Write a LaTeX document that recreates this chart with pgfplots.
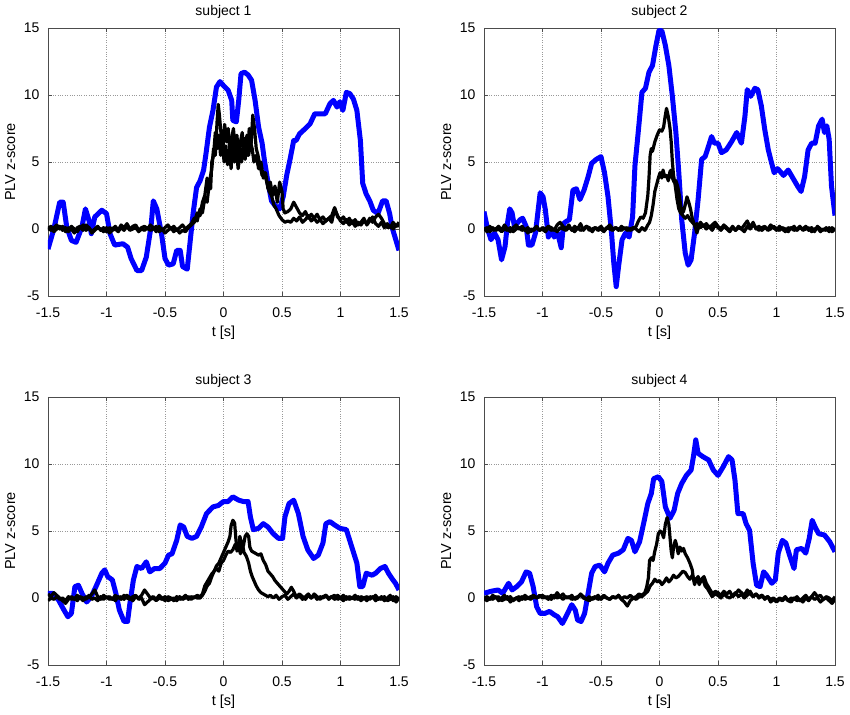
\documentclass[border=0pt]{standalone}
\usepackage{fontspec}
\setmainfont{Liberation Sans}
\usepackage{pgfplots}
\pgfplotsset{compat=1.18}
\newcommand\fs{\fontsize{14bp}{16bp}\selectfont}
\newcommand\fl{\fontsize{14.5bp}{16bp}\selectfont}
\definecolor{pblue}{RGB}{0,0,255}
\pgfplotsset{myax/.style={
  width=351bp,height=268bp,scale only axis,anchor=south west,
  xmin=-1.5,xmax=1.5,ymin=-5,ymax=15,
  xtick={-1.5,-1,-0.5,0,0.5,1,1.5},xticklabels={-1.5,-1,-0.5,0,0.5,1,1.5},
  ytick={-5,0,5,10,15},yticklabels={-5,0,5,10,15},
  grid=major,grid style={dotted,gray!80,line width=0.6bp},
  tick align=inside,tick pos=both,major tick length=4bp,
  tick style={black!70,line width=0.7bp},
  axis line style={black!70,line width=0.8bp},
  xlabel={t [s]},ylabel={PLV z-score},
  ticklabel style={font=\fs},label style={font=\fl},
  xticklabel style={anchor=center,yshift=-16.5bp},
  yticklabel style={anchor=east,xshift=-5bp},
  xlabel style={at={(axis description cs:0.5,-0.138)},anchor=center},
  ylabel style={at={(axis description cs:-0.108,0.5)},anchor=center,rotate=0},
  title style={font=\fs,at={(axis description cs:0.5,1.037)},anchor=center},
  /pgf/number format/assume math mode=true,
  blue line/.style={pblue,line width=5bp,line join=round},
  black line/.style={black,line width=3.2bp,line join=round},
}}
\begin{document}
\begin{tikzpicture}
\useasboundingbox (0,0) rectangle (850bp,715bp);
% ---------------- subject 1
\begin{axis}[myax,at={(48bp,419bp)},title={subject 1}]
\addplot[blue line] coordinates {(-1.5,-1.5)(-1.45,0)(-1.40,2.0)(-1.37,2.0)(-1.34,0.15)(-1.30,-0.85)(-1.26,-1.0)(-1.21,0.15)(-1.18,1.5)(-1.15,0.65)(-1.13,-0.35)(-1.10,0.9)(-1.04,1.4)(-1.0,1.15)(-0.97,-0.35)(-0.93,-1.2)(-0.86,-1.1)(-0.82,-1.35)(-0.79,-2.2)(-0.74,-3.1)(-0.70,-3.1)(-0.66,-2.1)(-0.62,0.15)(-0.60,2.1)(-0.57,1.5)(-0.53,-0.35)(-0.50,-2.2)(-0.47,-2.7)(-0.43,-2.6)(-0.40,-1.6)(-0.37,-1.6)(-0.35,-2.8)(-0.31,-3.0)(-0.29,-1.35)(-0.26,1.15)(-0.23,3.1)(-0.20,3.6)(-0.17,4.4)(-0.15,5.6)(-0.12,7.6)(-0.09,8.85)(-0.06,10.6)(-0.03,11.0)(0.0,10.7)(0.04,10.35)(0.07,9.6)(0.08,8.1)(0.11,8.0)(0.13,9.6)(0.15,11.6)(0.18,11.7)(0.21,11.5)(0.24,11.1)(0.27,9.6)(0.30,7.6)(0.33,6.4)(0.35,5.1)(0.38,3.5)(0.41,2.1)(0.44,1.75)(0.48,1.5)(0.51,2.4)(0.54,4.0)(0.57,5.25)(0.60,6.6)(0.62,6.6)(0.65,7.1)(0.70,7.5)(0.74,7.85)(0.78,8.6)(0.82,8.6)(0.87,8.6)(0.91,9.35)(0.94,9.6)(0.97,9.1)(0.995,9.5)(1.02,8.85)(1.05,10.2)(1.08,10.1)(1.11,9.7)(1.14,8.85)(1.17,6.6)(1.19,3.4)(1.22,2.6)(1.25,2.1)(1.28,1.4)(1.32,1.15)(1.36,2.1)(1.39,2.1)(1.42,1.15)(1.44,0.15)(1.5,-1.6)};
\addplot[black line] coordinates {(-1.5,0.2)(-1.475,-0.1)(-1.45,0.1)(-1.425,0.3)(-1.4,0.0)(-1.375,0.2)(-1.35,-0.2)(-1.325,0.1)(-1.3,0.0)(-1.275,-0.3)(-1.25,0.1)(-1.225,0.2)(-1.2,-0.1)(-1.175,0.3)(-1.15,0.1)(-1.125,-0.2)(-1.1,0.0)(-1.075,0.2)(-1.05,-0.1)(-1.025,0.1)(-1.0,-0.2)(-0.975,0.1)(-0.95,0.0)(-0.925,0.2)(-0.9,-0.1)(-0.875,0.3)(-0.85,0.1)(-0.825,0.4)(-0.8,0.0)(-0.775,0.2)(-0.75,0.3)(-0.725,-0.1)(-0.7,0.1)(-0.675,0.2)(-0.65,0.0)(-0.625,0.3)(-0.6,0.1)(-0.575,-0.2)(-0.55,0.2)(-0.525,-0.1)(-0.5,0.1)(-0.475,0.3)(-0.45,0.0)(-0.425,0.2)(-0.4,-0.1)(-0.375,0.1)(-0.35,0.3)(-0.325,0.0)(-0.3,0.2)(-0.275,0.4)(-0.25,0.8)(-0.225,0.6)(-0.2,1.5)(-0.18,1.2)(-0.16,2.3)(-0.14,2.0)(-0.12,3.5)(-0.1,4.5)(-0.085,6.0)(-0.07,5.5)(-0.055,8.0)(-0.045,9.3)(-0.035,8.5)(-0.02,7.0)(-0.005,6.0)(0.01,7.8)(0.025,6.5)(0.04,7.5)(0.055,5.5)(0.07,6.8)(0.085,7.5)(0.1,6.0)(0.115,7.0)(0.13,5.2)(0.145,6.5)(0.16,7.2)(0.175,5.8)(0.19,6.8)(0.205,5.5)(0.22,7.5)(0.235,6.2)(0.25,8.5)(0.265,7.5)(0.28,6.0)(0.295,5.5)(0.31,4.8)(0.33,4.0)(0.35,4.2)(0.37,3.5)(0.39,2.8)(0.41,2.5)(0.43,1.8)(0.45,1.5)(0.475,1.0)(0.5,0.7)(0.525,0.5)(0.55,0.6)(0.575,0.5)(0.6,0.8)(0.625,0.6)(0.65,0.9)(0.675,0.5)(0.7,0.7)(0.725,1.0)(0.75,0.6)(0.775,0.8)(0.8,0.5)(0.825,0.7)(0.85,0.4)(0.875,0.6)(0.9,0.8)(0.925,0.5)(0.95,1.5)(0.975,1.0)(1.0,0.6)(1.025,0.4)(1.05,0.7)(1.075,0.3)(1.1,0.6)(1.125,0.2)(1.15,0.5)(1.175,0.3)(1.2,0.6)(1.225,0.4)(1.25,0.8)(1.275,0.5)(1.3,0.9)(1.325,1.1)(1.35,0.8)(1.375,0.4)(1.4,0.1)(1.425,0.2)(1.45,0.0)(1.475,0.3)(1.5,0.2)};
\addplot[black line] coordinates {(-1.5,-0.1)(-1.475,0.2)(-1.45,-0.2)(-1.425,0.0)(-1.4,0.2)(-1.375,-0.1)(-1.35,0.1)(-1.325,-0.2)(-1.3,0.2)(-1.275,0.0)(-1.25,-0.2)(-1.225,0.1)(-1.2,0.3)(-1.175,-0.1)(-1.15,0.1)(-1.125,-0.3)(-1.1,-0.1)(-1.075,0.1)(-1.05,0.0)(-1.025,-0.2)(-1.0,0.1)(-0.975,-0.3)(-0.95,-0.1)(-0.925,0.0)(-0.9,-0.2)(-0.875,0.1)(-0.85,-0.1)(-0.825,0.2)(-0.8,-0.1)(-0.775,0.0)(-0.75,0.1)(-0.725,-0.2)(-0.7,0.0)(-0.675,-0.1)(-0.65,0.1)(-0.625,-0.1)(-0.6,0.0)(-0.575,0.2)(-0.55,-0.2)(-0.525,0.0)(-0.5,-0.3)(-0.475,-0.1)(-0.45,0.1)(-0.425,-0.2)(-0.4,0.0)(-0.375,-0.3)(-0.35,-0.1)(-0.325,-0.2)(-0.3,0.1)(-0.275,0.3)(-0.25,0.5)(-0.225,1.2)(-0.2,1.0)(-0.18,2.0)(-0.16,2.5)(-0.14,3.8)(-0.125,3.3)(-0.11,3.0)(-0.1,5.0)(-0.085,5.5)(-0.07,7.2)(-0.055,6.0)(-0.04,7.0)(-0.025,5.5)(-0.01,6.5)(0.005,5.0)(0.02,6.2)(0.035,4.8)(0.05,5.8)(0.065,4.5)(0.08,6.5)(0.095,5.0)(0.11,6.0)(0.125,4.5)(0.14,5.5)(0.155,5.0)(0.17,6.5)(0.185,5.2)(0.2,7.0)(0.215,5.5)(0.23,6.5)(0.245,6.0)(0.26,5.0)(0.28,5.5)(0.3,4.5)(0.32,5.0)(0.34,3.8)(0.36,4.2)(0.38,3.0)(0.4,3.5)(0.42,2.5)(0.44,3.2)(0.46,2.0)(0.48,3.5)(0.5,2.8)(0.51,1.5)(0.525,1.2)(0.55,1.3)(0.575,1.5)(0.6,2.0)(0.625,1.6)(0.65,1.2)(0.675,1.0)(0.7,1.3)(0.725,0.8)(0.75,1.1)(0.775,0.8)(0.8,1.1)(0.825,0.7)(0.85,0.9)(0.875,0.6)(0.9,0.8)(0.925,1.0)(0.95,1.6)(0.975,0.9)(1.0,0.7)(1.025,0.9)(1.05,0.5)(1.075,0.8)(1.1,0.4)(1.125,0.7)(1.15,0.3)(1.175,0.5)(1.2,0.8)(1.225,0.3)(1.25,0.6)(1.275,0.9)(1.3,0.4)(1.325,0.2)(1.35,0.5)(1.375,0.1)(1.4,0.4)(1.425,0.1)(1.45,0.5)(1.475,0.2)(1.5,0.5)};
\end{axis}
% ---------------- subject 2
\begin{axis}[myax,at={(484bp,419bp)},title={subject 2}]
\addplot[blue line] coordinates {(-1.5,1.3)(-1.47,0)(-1.44,-0.8)(-1.41,-0.3)(-1.38,-0.8)(-1.35,-2.3)(-1.32,-1.3)(-1.30,0.4)(-1.28,1.5)(-1.26,1.2)(-1.24,0.2)(-1.19,0.7)(-1.17,0.8)(-1.14,0.2)(-1.12,-1.2)(-1.09,-1.2)(-1.06,-0.3)(-1.02,2.7)(-0.995,2.4)(-0.975,1.4)(-0.95,-0.6)(-0.93,0)(-0.90,-0.6)(-0.87,-0.3)(-0.84,-1.4)(-0.82,0.4)(-0.80,0.55)(-0.77,0.7)(-0.74,2.9)(-0.71,3.0)(-0.68,2.2)(-0.645,2.9)(-0.61,3.9)(-0.58,4.9)(-0.54,5.2)(-0.50,5.4)(-0.47,4.2)(-0.44,2.4)(-0.41,-0.3)(-0.39,-2.6)(-0.37,-4.3)(-0.35,-2.8)(-0.32,-0.8)(-0.29,-0.3)(-0.26,-0.6)(-0.23,0.9)(-0.21,4.7)(-0.18,7.4)(-0.15,10.2)(-0.12,10.5)(-0.09,11.7)(-0.06,12.2)(-0.03,13.7)(-0.005,14.8)(0.02,14.8)(0.05,13.7)(0.08,12.2)(0.11,9.9)(0.14,7.2)(0.165,4.2)(0.19,0.7)(0.22,-1.8)(0.245,-2.7)(0.27,-2.3)(0.30,-0.3)(0.33,2.2)(0.36,5.2)(0.39,5.4)(0.42,6.2)(0.445,6.9)(0.47,6.4)(0.50,6.4)(0.53,5.7)(0.57,5.9)(0.615,6.5)(0.66,7.2)(0.70,6.4)(0.73,8.4)(0.75,10.4)(0.78,9.9)(0.815,10.5)(0.84,10.4)(0.87,9.2)(0.90,7.4)(0.93,5.9)(0.95,5.2)(0.98,4.2)(1.01,4.5)(1.06,4.0)(1.10,4.4)(1.14,3.8)(1.18,3.2)(1.21,2.8)(1.24,3.9)(1.27,5.9)(1.30,6.4)(1.33,6.4)(1.36,7.7)(1.39,8.2)(1.41,7.2)(1.43,7.7)(1.45,6.7)(1.47,3.2)(1.5,1.0)};
\addplot[black line] coordinates {(-1.5,0.1)(-1.475,-0.2)(-1.45,0.2)(-1.425,-0.1)(-1.4,0.0)(-1.375,0.2)(-1.35,-0.1)(-1.325,0.3)(-1.3,0.0)(-1.275,-0.2)(-1.25,0.1)(-1.225,0.3)(-1.2,0.0)(-1.175,0.2)(-1.15,-0.1)(-1.125,0.1)(-1.1,-0.2)(-1.075,0.0)(-1.05,0.2)(-1.025,-0.1)(-1.0,0.1)(-0.975,0.0)(-0.95,0.2)(-0.925,0.1)(-0.9,-0.1)(-0.875,0.3)(-0.85,0.5)(-0.825,0.2)(-0.8,0.0)(-0.775,0.3)(-0.75,-0.1)(-0.725,0.2)(-0.7,0.0)(-0.675,0.4)(-0.65,-0.1)(-0.625,0.2)(-0.6,0.1)(-0.575,-0.2)(-0.55,0.1)(-0.525,0.0)(-0.5,0.2)(-0.475,-0.1)(-0.45,0.1)(-0.425,0.3)(-0.4,0.0)(-0.375,0.1)(-0.35,-0.1)(-0.325,0.2)(-0.3,0.0)(-0.275,0.1)(-0.25,-0.1)(-0.225,0.0)(-0.2,0.2)(-0.18,0.6)(-0.16,0.9)(-0.14,0.8)(-0.12,1.2)(-0.1,2.5)(-0.09,3.8)(-0.08,5.5)(-0.07,6.0)(-0.06,5.8)(-0.04,6.5)(-0.02,7.0)(0.0,7.4)(0.02,7.3)(0.035,7.6)(0.05,8.5)(0.06,9.0)(0.075,8.4)(0.09,7.5)(0.1,6.5)(0.11,5.0)(0.12,4.0)(0.135,3.2)(0.15,2.2)(0.165,1.5)(0.18,1.2)(0.2,1.0)(0.22,0.8)(0.24,1.0)(0.26,0.7)(0.28,0.5)(0.3,0.3)(0.325,0.4)(0.35,0.1)(0.375,0.3)(0.4,0.0)(0.425,0.2)(0.45,-0.1)(0.475,0.3)(0.5,0.1)(0.525,-0.1)(0.55,0.2)(0.575,0.0)(0.6,-0.2)(0.625,0.1)(0.65,-0.1)(0.675,0.2)(0.7,0.0)(0.725,0.3)(0.75,0.6)(0.775,0.1)(0.8,0.5)(0.825,0.0)(0.85,0.2)(0.875,-0.1)(0.9,0.1)(0.925,0.0)(0.95,0.3)(0.975,0.1)(1.0,-0.1)(1.025,0.2)(1.05,0.0)(1.075,-0.2)(1.1,0.1)(1.125,0.0)(1.15,0.2)(1.175,-0.1)(1.2,0.1)(1.225,0.0)(1.25,0.2)(1.275,-0.1)(1.3,0.1)(1.325,-0.2)(1.35,0.2)(1.375,0.0)(1.4,-0.1)(1.425,0.1)(1.45,-0.2)(1.475,0.1)(1.5,-0.1)};
\addplot[black line] coordinates {(-1.5,-0.1)(-1.475,0.1)(-1.45,-0.2)(-1.425,0.1)(-1.4,-0.1)(-1.375,0.0)(-1.35,-0.2)(-1.325,0.0)(-1.3,-0.1)(-1.275,0.1)(-1.25,-0.2)(-1.225,0.0)(-1.2,0.1)(-1.175,-0.1)(-1.15,0.0)(-1.125,-0.3)(-1.1,0.0)(-1.075,-0.1)(-1.05,0.1)(-1.025,-0.1)(-1.0,0.0)(-0.975,-0.2)(-0.95,0.1)(-0.925,-0.1)(-0.9,0.0)(-0.875,-0.2)(-0.85,0.1)(-0.825,0.0)(-0.8,-0.1)(-0.775,0.1)(-0.75,0.0)(-0.725,-0.2)(-0.7,0.1)(-0.675,-0.1)(-0.65,0.0)(-0.625,0.2)(-0.6,-0.1)(-0.575,0.0)(-0.55,0.1)(-0.525,-0.1)(-0.5,0.0)(-0.475,-0.2)(-0.45,0.1)(-0.425,0.0)(-0.4,-0.1)(-0.375,0.1)(-0.35,0.0)(-0.325,-0.1)(-0.3,0.1)(-0.275,-0.1)(-0.25,0.0)(-0.225,0.1)(-0.2,0.0)(-0.175,-0.2)(-0.15,0.1)(-0.125,-0.1)(-0.1,0.3)(-0.085,0.5)(-0.07,1.0)(-0.055,1.8)(-0.04,2.8)(-0.025,3.3)(-0.01,3.8)(0.005,4.2)(0.02,3.8)(0.03,4.4)(0.045,3.9)(0.06,4.0)(0.075,3.6)(0.09,4.3)(0.1,4.4)(0.11,3.8)(0.125,3.5)(0.14,3.6)(0.155,3.2)(0.17,2.5)(0.18,1.8)(0.19,1.2)(0.205,1.3)(0.22,1.8)(0.235,2.4)(0.25,2.0)(0.265,1.5)(0.28,0.8)(0.295,0.4)(0.31,0.0)(0.32,-0.3)(0.335,0.2)(0.35,0.5)(0.375,0.2)(0.4,0.4)(0.425,0.1)(0.45,0.3)(0.475,0.5)(0.5,0.2)(0.525,0.0)(0.55,0.3)(0.575,0.1)(0.6,-0.1)(0.625,0.2)(0.65,-0.1)(0.675,0.1)(0.7,0.0)(0.725,-0.2)(0.75,0.2)(0.775,0.0)(0.8,0.3)(0.825,0.1)(0.85,-0.1)(0.875,0.1)(0.9,0.2)(0.925,-0.1)(0.95,0.0)(0.975,0.2)(1.0,0.0)(1.025,-0.1)(1.05,0.1)(1.075,0.0)(1.1,-0.2)(1.125,0.1)(1.15,-0.1)(1.175,0.0)(1.2,0.2)(1.225,-0.1)(1.25,0.0)(1.275,0.1)(1.3,-0.2)(1.325,0.0)(1.35,0.1)(1.375,-0.2)(1.4,0.0)(1.425,-0.1)(1.45,0.1)(1.475,-0.2)(1.5,0.0)};
\end{axis}
% ---------------- subject 3
\begin{axis}[myax,at={(48bp,50bp)},title={subject 3}]
\addplot[blue line] coordinates {(-1.5,0.35)(-1.46,0.35)(-1.41,-0.15)(-1.37,-0.8)(-1.33,-1.4)(-1.30,-1.15)(-1.27,0.85)(-1.24,0.95)(-1.21,0.35)(-1.17,-0.3)(-1.13,0.1)(-1.09,0.85)(-1.04,1.85)(-1.015,2.1)(-0.99,1.6)(-0.95,1.35)(-0.92,0.35)(-0.89,-0.9)(-0.85,-1.75)(-0.82,-1.75)(-0.80,-0.4)(-0.77,1.35)(-0.74,2.35)(-0.70,2.2)(-0.66,2.7)(-0.63,1.95)(-0.59,2.2)(-0.545,2.2)(-0.50,2.6)(-0.47,3.2)(-0.44,3.3)(-0.40,4.3)(-0.37,5.45)(-0.34,5.3)(-0.31,4.6)(-0.27,4.45)(-0.23,4.6)(-0.19,5.3)(-0.145,6.3)(-0.09,6.8)(-0.045,6.9)(0.0,7.2)(0.04,7.2)(0.08,7.55)(0.13,7.3)(0.17,7.2)(0.21,7.2)(0.23,6.05)(0.255,5.1)(0.30,5.2)(0.34,5.55)(0.38,5.3)(0.425,4.8)(0.47,4.45)(0.505,4.45)(0.525,6.05)(0.56,7.05)(0.60,7.3)(0.64,6.3)(0.68,4.6)(0.72,3.6)(0.77,2.95)(0.81,3.2)(0.85,4.1)(0.875,5.55)(0.91,5.7)(0.95,5.45)(0.995,5.2)(1.05,5.1)(1.095,3.85)(1.14,2.6)(1.165,0.85)(1.19,0.85)(1.22,1.85)(1.27,1.7)(1.30,1.85)(1.34,2.2)(1.38,2.35)(1.41,1.85)(1.44,1.45)(1.47,1.1)(1.5,0.6)};
\addplot[black line] coordinates {(-1.5,0.3)(-1.475,0.1)(-1.45,0.4)(-1.425,0.2)(-1.4,0.0)(-1.375,-0.2)(-1.35,-0.4)(-1.325,-0.1)(-1.3,0.1)(-1.275,-0.1)(-1.25,0.2)(-1.225,0.0)(-1.2,-0.2)(-1.175,0.1)(-1.15,0.0)(-1.125,0.3)(-1.1,0.6)(-1.075,0.1)(-1.05,-0.1)(-1.025,0.2)(-1.0,0.0)(-0.975,0.1)(-0.95,-0.1)(-0.925,0.2)(-0.9,0.0)(-0.875,0.1)(-0.85,-0.1)(-0.825,0.2)(-0.8,0.0)(-0.775,-0.2)(-0.75,0.1)(-0.725,0.0)(-0.7,0.2)(-0.675,0.6)(-0.65,0.3)(-0.625,0.0)(-0.6,0.1)(-0.575,-0.1)(-0.55,0.2)(-0.525,0.0)(-0.5,-0.2)(-0.475,0.1)(-0.45,0.0)(-0.425,-0.2)(-0.4,0.1)(-0.375,-0.1)(-0.35,0.0)(-0.325,0.2)(-0.3,-0.1)(-0.275,0.1)(-0.25,0.0)(-0.225,0.2)(-0.2,0.1)(-0.18,0.3)(-0.16,0.9)(-0.14,1.2)(-0.12,1.5)(-0.1,1.8)(-0.08,2.0)(-0.06,2.4)(-0.04,2.6)(-0.02,3.0)(0.0,3.4)(0.02,3.8)(0.04,4.2)(0.055,4.6)(0.065,5.4)(0.08,5.8)(0.095,5.6)(0.105,4.5)(0.115,3.5)(0.13,3.8)(0.145,3.3)(0.16,4.2)(0.175,3.4)(0.19,3.2)(0.2,3.0)(0.215,2.6)(0.23,2.0)(0.245,1.6)(0.26,1.3)(0.28,0.9)(0.3,0.6)(0.32,0.4)(0.34,0.3)(0.36,0.2)(0.38,0.1)(0.4,0.2)(0.425,0.0)(0.45,0.2)(0.475,-0.1)(0.5,0.1)(0.525,0.2)(0.55,-0.1)(0.575,0.1)(0.6,0.3)(0.625,0.0)(0.65,0.2)(0.675,-0.1)(0.7,0.1)(0.725,0.3)(0.75,0.0)(0.775,0.2)(0.8,-0.1)(0.825,0.1)(0.85,0.0)(0.875,0.2)(0.9,-0.1)(0.925,0.1)(0.95,0.2)(0.975,-0.1)(1.0,0.0)(1.025,0.2)(1.05,-0.1)(1.075,0.1)(1.1,0.0)(1.125,0.2)(1.15,-0.1)(1.175,0.1)(1.2,0.0)(1.225,-0.2)(1.25,0.1)(1.275,0.0)(1.3,0.2)(1.325,-0.1)(1.35,0.1)(1.375,-0.2)(1.4,0.0)(1.425,0.2)(1.45,-0.2)(1.475,0.1)(1.5,-0.1)};
\addplot[black line] coordinates {(-1.5,-0.2)(-1.475,0.0)(-1.45,-0.1)(-1.425,0.1)(-1.4,-0.1)(-1.375,0.0)(-1.35,-0.2)(-1.325,0.1)(-1.3,-0.1)(-1.275,0.0)(-1.25,-0.2)(-1.225,0.1)(-1.2,0.0)(-1.175,-0.1)(-1.15,0.2)(-1.125,-0.1)(-1.1,0.0)(-1.075,-0.2)(-1.05,0.1)(-1.025,-0.1)(-1.0,0.1)(-0.975,-0.1)(-0.95,0.0)(-0.925,-0.2)(-0.9,0.1)(-0.875,-0.1)(-0.85,0.2)(-0.825,0.0)(-0.8,-0.1)(-0.775,0.1)(-0.75,0.2)(-0.725,-0.1)(-0.7,0.0)(-0.675,-0.5)(-0.65,-0.3)(-0.625,-0.1)(-0.6,0.0)(-0.575,-0.2)(-0.55,0.0)(-0.525,-0.1)(-0.5,0.1)(-0.475,-0.2)(-0.45,-0.1)(-0.425,0.0)(-0.4,-0.2)(-0.375,0.1)(-0.35,-0.1)(-0.325,0.0)(-0.3,0.1)(-0.275,-0.1)(-0.25,0.1)(-0.225,0.0)(-0.2,0.0)(-0.18,0.2)(-0.16,0.5)(-0.14,0.9)(-0.12,1.1)(-0.1,1.6)(-0.08,2.0)(-0.06,2.2)(-0.04,2.0)(-0.02,2.6)(0.0,2.8)(0.02,3.2)(0.04,3.5)(0.06,3.4)(0.08,3.6)(0.1,4.0)(0.12,3.6)(0.14,4.6)(0.155,4.0)(0.17,3.9)(0.185,4.6)(0.2,4.8)(0.215,4.6)(0.225,3.8)(0.24,3.5)(0.26,3.4)(0.28,3.3)(0.3,3.2)(0.32,3.3)(0.34,2.8)(0.36,2.5)(0.38,2.0)(0.4,1.8)(0.42,1.6)(0.44,1.3)(0.46,1.1)(0.48,0.9)(0.5,0.7)(0.52,0.5)(0.54,0.3)(0.56,0.5)(0.58,0.8)(0.6,0.5)(0.62,0.1)(0.65,0.3)(0.675,0.1)(0.7,-0.1)(0.725,0.2)(0.75,0.0)(0.775,0.3)(0.8,0.1)(0.825,-0.1)(0.85,0.1)(0.875,0.2)(0.9,0.0)(0.925,0.1)(0.95,-0.1)(0.975,0.2)(1.0,0.0)(1.025,-0.2)(1.05,0.1)(1.075,-0.1)(1.1,0.0)(1.125,-0.1)(1.15,0.1)(1.175,-0.2)(1.2,0.0)(1.225,0.1)(1.25,-0.1)(1.275,0.1)(1.3,-0.2)(1.325,0.0)(1.35,-0.1)(1.375,0.1)(1.4,-0.2)(1.425,-0.1)(1.45,0.1)(1.475,-0.3)(1.5,0.0)};
\end{axis}
% ---------------- subject 4
\begin{axis}[myax,at={(484bp,50bp)},title={subject 4}]
\addplot[blue line] coordinates {(-1.5,0.35)(-1.44,0.5)(-1.38,0.6)(-1.34,0.35)(-1.29,1.1)(-1.26,0.6)(-1.22,0.85)(-1.18,1.2)(-1.14,1.95)(-1.11,1.85)(-1.08,0.85)(-1.05,-0.65)(-1.02,-1.15)(-0.98,-1.15)(-0.94,-1.0)(-0.90,-1.25)(-0.87,-1.4)(-0.83,-1.9)(-0.80,-1.4)(-0.75,-0.5)(-0.72,-0.9)(-0.70,-1.65)(-0.67,-1.75)(-0.64,-1.15)(-0.61,0.35)(-0.58,1.85)(-0.55,2.35)(-0.51,2.45)(-0.47,1.95)(-0.44,2.6)(-0.40,3.2)(-0.35,3.35)(-0.31,3.6)(-0.27,4.45)(-0.24,4.3)(-0.21,3.45)(-0.17,4.2)(-0.13,5.8)(-0.10,7.05)(-0.07,7.8)(-0.05,8.9)(-0.01,9.05)(0.02,8.7)(0.05,6.8)(0.09,5.95)(0.125,6.55)(0.155,7.8)(0.19,8.55)(0.23,9.15)(0.27,9.55)(0.29,10.55)(0.31,11.8)(0.33,10.8)(0.37,10.55)(0.42,10.3)(0.46,9.55)(0.50,9.15)(0.545,9.8)(0.59,10.55)(0.62,10.3)(0.645,8.8)(0.67,6.3)(0.715,6.3)(0.74,5.55)(0.77,5.05)(0.80,2.6)(0.83,0.95)(0.86,0.85)(0.89,1.95)(0.915,1.7)(0.96,1.1)(0.99,1.35)(1.015,3.35)(1.05,4.3)(1.08,4.1)(1.115,3.1)(1.15,2.2)(1.17,3.6)(1.215,3.7)(1.25,3.35)(1.28,4.45)(1.305,5.8)(1.33,5.3)(1.36,4.8)(1.41,4.7)(1.455,4.2)(1.5,3.45)};
\addplot[black line] coordinates {(-1.5,0.1)(-1.475,-0.2)(-1.45,0.0)(-1.425,-0.1)(-1.4,0.1)(-1.375,-0.2)(-1.35,0.0)(-1.325,0.2)(-1.3,-0.1)(-1.275,0.1)(-1.25,-0.2)(-1.225,0.0)(-1.2,0.1)(-1.175,-0.1)(-1.15,0.2)(-1.125,0.0)(-1.1,-0.1)(-1.075,0.1)(-1.05,0.0)(-1.025,0.2)(-1.0,0.0)(-0.975,0.1)(-0.95,-0.1)(-0.925,0.2)(-0.9,0.0)(-0.875,0.4)(-0.85,0.1)(-0.825,-0.1)(-0.8,0.1)(-0.775,0.0)(-0.75,0.2)(-0.725,-0.1)(-0.7,0.0)(-0.675,0.3)(-0.65,0.1)(-0.625,-0.1)(-0.6,0.1)(-0.575,-0.1)(-0.55,0.0)(-0.525,0.2)(-0.5,-0.1)(-0.475,0.1)(-0.45,0.0)(-0.425,-0.1)(-0.4,0.1)(-0.375,0.0)(-0.35,0.2)(-0.325,-0.1)(-0.3,0.1)(-0.275,0.0)(-0.25,0.2)(-0.225,0.0)(-0.2,0.1)(-0.175,0.3)(-0.15,0.2)(-0.125,0.4)(-0.11,0.8)(-0.095,1.5)(-0.085,2.8)(-0.07,3.0)(-0.055,2.8)(-0.04,3.5)(-0.025,4.0)(-0.01,4.8)(0.005,5.0)(0.02,4.9)(0.035,4.5)(0.05,5.5)(0.065,6.0)(0.08,5.5)(0.09,4.5)(0.1,3.5)(0.11,3.0)(0.12,3.8)(0.135,4.3)(0.15,3.8)(0.16,3.3)(0.175,3.8)(0.19,3.5)(0.205,3.7)(0.22,3.3)(0.24,3.0)(0.26,2.6)(0.28,2.1)(0.29,1.4)(0.3,1.0)(0.31,1.3)(0.33,1.6)(0.35,1.2)(0.37,1.4)(0.39,0.9)(0.41,0.7)(0.43,0.4)(0.45,0.1)(0.475,0.3)(0.5,0.2)(0.525,0.0)(0.55,0.3)(0.575,0.1)(0.6,0.0)(0.625,0.2)(0.65,0.4)(0.675,0.1)(0.7,0.3)(0.725,0.0)(0.75,0.2)(0.775,0.5)(0.8,0.1)(0.825,0.3)(0.85,0.1)(0.875,0.2)(0.9,0.0)(0.925,0.1)(0.95,-0.1)(0.975,0.0)(1.0,-0.2)(1.025,0.0)(1.05,-0.1)(1.075,0.1)(1.1,-0.2)(1.125,0.0)(1.15,-0.1)(1.175,0.1)(1.2,-0.2)(1.225,0.0)(1.25,0.2)(1.275,-0.1)(1.3,0.1)(1.325,0.4)(1.35,0.1)(1.375,0.2)(1.4,-0.1)(1.425,0.1)(1.45,0.0)(1.475,-0.2)(1.5,0.1)};
\addplot[black line] coordinates {(-1.5,-0.2)(-1.475,0.1)(-1.45,-0.1)(-1.425,0.2)(-1.4,0.0)(-1.375,0.1)(-1.35,-0.2)(-1.325,-0.1)(-1.3,0.1)(-1.275,-0.3)(-1.25,-0.1)(-1.225,0.0)(-1.2,-0.2)(-1.175,0.1)(-1.15,-0.1)(-1.125,0.0)(-1.1,0.1)(-1.075,0.2)(-1.05,0.0)(-1.025,0.1)(-1.0,0.2)(-0.975,0.0)(-0.95,0.1)(-0.925,-0.1)(-0.9,0.2)(-0.875,0.0)(-0.85,0.1)(-0.825,0.3)(-0.8,0.0)(-0.775,0.1)(-0.75,-0.1)(-0.725,0.0)(-0.7,0.1)(-0.675,0.2)(-0.65,0.0)(-0.625,-0.1)(-0.6,-0.2)(-0.575,0.0)(-0.55,0.1)(-0.525,-0.1)(-0.5,0.0)(-0.475,0.2)(-0.45,0.0)(-0.425,-0.1)(-0.4,0.1)(-0.375,0.0)(-0.35,0.2)(-0.325,-0.1)(-0.3,-0.3)(-0.275,-0.6)(-0.25,-0.2)(-0.225,0.0)(-0.2,-0.1)(-0.175,0.1)(-0.15,0.1)(-0.125,0.3)(-0.1,0.5)(-0.08,0.9)(-0.06,1.1)(-0.04,1.4)(-0.02,1.2)(0.0,1.3)(0.02,1.0)(0.04,1.2)(0.06,1.5)(0.08,1.2)(0.1,1.4)(0.12,1.7)(0.14,1.5)(0.16,1.6)(0.18,1.8)(0.2,2.0)(0.22,1.9)(0.24,1.6)(0.26,1.4)(0.28,1.7)(0.3,1.3)(0.32,1.5)(0.34,1.0)(0.36,1.4)(0.38,1.6)(0.4,1.1)(0.42,0.8)(0.44,0.5)(0.46,0.3)(0.475,0.5)(0.5,0.4)(0.525,0.2)(0.55,0.5)(0.575,0.3)(0.6,0.5)(0.625,0.1)(0.65,0.3)(0.675,0.6)(0.7,0.4)(0.725,0.2)(0.75,0.6)(0.775,0.3)(0.8,0.1)(0.825,0.3)(0.85,0.0)(0.875,0.2)(0.9,-0.1)(0.925,0.1)(0.95,-0.3)(0.975,-0.1)(1.0,-0.3)(1.025,-0.1)(1.05,-0.2)(1.075,0.0)(1.1,-0.2)(1.125,-0.3)(1.15,0.0)(1.175,-0.2)(1.2,-0.1)(1.225,-0.3)(1.25,0.0)(1.275,-0.2)(1.3,0.1)(1.325,-0.1)(1.35,0.0)(1.375,-0.3)(1.4,-0.1)(1.425,0.0)(1.45,-0.2)(1.475,-0.4)(1.5,-0.1)};
\end{axis}
\end{tikzpicture}
\end{document}
